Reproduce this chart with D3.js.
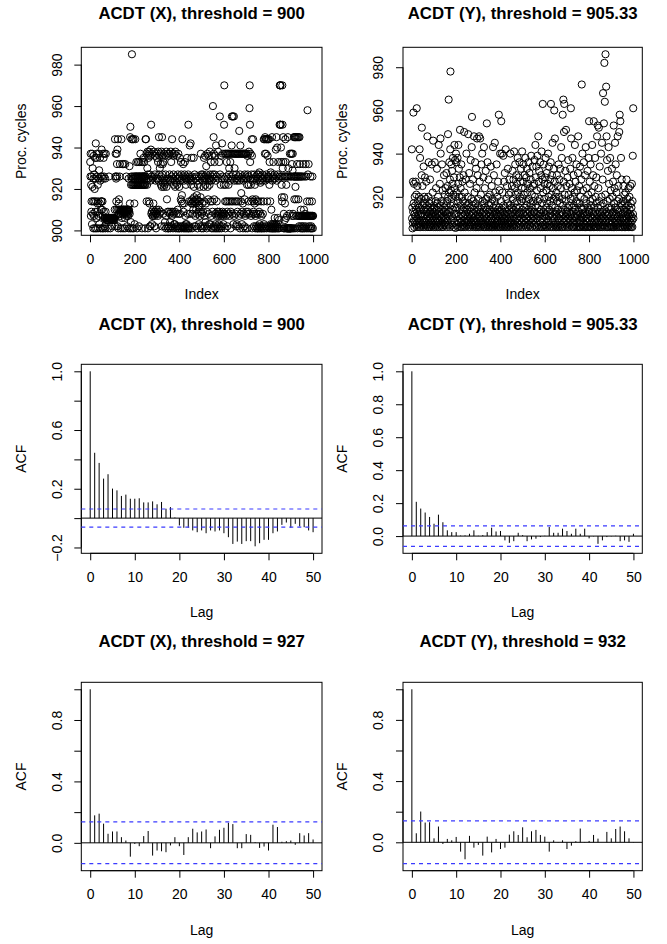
<!DOCTYPE html>
<html><head><meta charset="utf-8">
<script src="https://cdn.jsdelivr.net/npm/d3@7"></script>
<style>
body{margin:0;background:#fff}
svg{display:block}
text{font-family:"Liberation Sans",Arial,Helvetica,sans-serif;fill:#000}
</style>
</head><body>
<svg id="chart" width="667" height="944"></svg>
<script>
// ---------- DATA ----------
const seriesX = [
933,926,937,907,922,909,914,926,903,937,921,930,908,914,901,925,936,907,927,914,920,901,935,909,925,942,914,901,906,935,937,926,909,913,922,901,914,907,925,937,929,903,908,913,935,924,901,926,910,914,
914,939,926,910,901,914,907,937,925,901,935,909,926,906,937,902,906,925,901,909,937,906,905,906,906,905,906,906,905,901,906,906,905,906,926,906,906,905,906,906,901,906,905,906,906,906,905,906,902,906,
906,906,905,906,906,905,906,906,906,905,910,944,902,926,937,926,925,914,910,937,932,926,939,902,944,910,901,908,913,915,910,908,926,932,909,910,907,901,908,910,944,910,906,909,932,908,910,901,910,909,
932,910,908,909,910,906,901,932,910,908,909,910,926,907,910,902,910,909,908,910,907,910,925,901,910,909,931,908,913,945,950,901,904,922,926,944,925,985,922,901,944,926,922,925,944,901,922,926,913,903,
922,926,944,922,925,926,922,933,926,922,901,926,922,925,933,922,926,922,902,926,933,922,926,925,922,937,926,922,933,926,922,925,901,926,922,933,926,922,926,935,922,926,933,925,922,926,901,922,944,926,
944,925,937,914,924,922,930,938,927,901,936,935,925,914,938,937,913,927,902,902,924,936,939,951,908,926,909,903,937,907,925,907,910,913,908,938,926,909,902,907,927,936,909,924,908,901,925,910,908,935,
937,909,925,907,933,938,924,910,945,927,936,908,930,925,937,909,932,922,926,938,902,921,945,927,936,932,923,908,933,925,921,937,902,924,922,904,936,923,927,901,907,938,921,925,915,902,937,909,924,901,
901,936,925,909,902,937,927,908,904,901,924,938,909,933,926,902,907,944,937,925,909,901,936,927,908,922,903,937,924,903,909,921,938,901,926,923,908,902,936,925,922,901,910,927,902,937,908,901,925,921,
926,901,935,908,924,902,915,933,927,914,901,917,925,944,913,902,926,932,909,901,924,913,902,927,933,901,907,925,903,922,926,901,903,925,935,902,924,908,901,927,951,901,925,914,902,926,941,908,901,924,
942,925,914,922,935,913,926,901,915,908,913,924,910,914,935,921,916,902,927,913,914,907,925,915,902,910,913,926,917,908,915,901,922,914,924,909,912,903,926,911,914,921,907,925,902,916,937,909,927,901,
926,908,913,902,924,927,909,901,921,925,935,914,907,926,902,936,922,904,925,913,931,927,901,909,924,937,921,902,926,915,936,925,908,903,924,922,938,927,903,914,925,933,907,924,901,926,936,914,909,927,
960,901,925,945,937,902,915,933,927,901,908,936,903,924,941,901,907,914,926,902,909,909,901,938,908,925,903,907,933,901,909,955,927,902,908,922,936,907,901,925,908,942,902,909,926,937,907,903,908,922,
951,970,925,908,937,914,901,922,937,907,926,914,933,937,909,902,925,937,914,908,922,937,927,930,907,914,937,924,933,901,909,937,926,914,941,955,925,908,937,955,914,927,903,937,955,907,924,930,937,914,
925,937,908,902,927,937,914,903,924,937,909,925,937,902,914,926,937,907,948,924,937,901,927,941,908,937,914,918,925,937,903,909,926,937,913,901,924,937,908,925,937,902,915,927,937,907,901,926,937,909,
937,925,908,922,936,901,927,909,937,914,922,926,938,908,959,970,951,933,925,937,922,907,914,927,944,936,901,924,915,908,944,925,909,914,902,927,908,913,922,925,901,907,915,926,902,908,924,914,901,927,
901,925,908,902,914,927,901,909,928,903,924,901,908,923,902,926,914,901,907,925,901,924,927,902,908,925,901,914,944,903,926,944,901,937,945,924,902,944,937,927,944,901,925,914,944,936,926,902,944,925,
926,944,901,922,933,925,902,914,901,928,903,927,910,901,902,945,924,901,903,926,901,933,902,925,901,903,927,906,901,925,902,901,939,926,903,945,924,901,940,902,906,927,901,933,903,925,905,901,926,951,
970,970,951,970,951,940,933,926,922,916,914,970,951,930,926,945,933,901,908,916,926,901,905,913,926,944,933,901,906,922,926,901,907,901,926,901,945,901,930,901,926,901,901,908,901,937,901,901,926,901,
937,901,926,937,932,907,901,929,937,908,926,901,907,945,926,915,945,926,901,945,921,926,945,915,926,907,945,932,926,901,945,926,907,915,945,926,902,907,945,926,932,907,901,926,910,907,902,926,907,901,
907,901,926,907,902,932,907,901,910,907,926,907,901,908,907,902,932,907,926,907,901,907,914,907,958,907,927,901,907,932,907,902,907,914,907,901,907,926,907,901,907,902,907,901,914,907,926,907,901,907
];
const seriesY = [
942,910,915,905.4,908,927,913,959,917,909,926,906,912,920,908,916,911,927,907,914,921,909,961,906,913,925,910,918,907,916,912,908,920,906,915,942,909,938,911,906,914,919,907,912,930,952,909,916,925,908,
911,906,917,934,909,914,920,907,912,929,908,915,906,919,910,927,913,907,916,909,948,911,906,914,920,908,936,912,906,917,909,913,928,907,915,910,906,918,912,908,935,914,907,911,922,909,946,913,906,916,
910,907,915,936,909,912,906,918,911,924,908,914,907,933,910,917,906,912,920,909,915,944,908,913,906,911,926,909,916,947,940,907,912,918,910,906,935,914,908,923,911,906,917,909,913,930,907,915,910,921,
908,913,924,907,916,910,931,906,912,918,909,925,914,949,920,907,965,911,922,936,913,906,928,942,978,916,923,909,935,919,911,932,907,926,914,938,910,921,906,917,929,912,944,908,924,937,915,905.6,920,940,
912,936,907,922,915,909,938,918,906,926,944,911,933,908,920,914,929,951,910,906,924,916,908,935,912,906,920,909,927,914,907,918,911,930,906,915,950,909,922,912,908,917,906,928,913,910,940,907,916,909,
914,908,920,911,949,906,917,909,931,912,907,915,926,910,906,937,913,908,919,911,943,957,907,916,909,928,912,906,918,910,948,914,907,922,909,936,911,906,917,933,908,913,924,906,947,910,915,930,907,912,
919,906,911,948,914,908,927,910,947,906,913,921,909,916,935,907,912,940,908,918,910,906,929,913,907,943,911,917,906,924,909,915,908,932,912,906,919,910,954,914,907,936,909,920,906,913,928,908,916,911,
906,914,921,909,912,907,934,917,910,906,925,913,908,919,906,911,943,909,915,907,930,912,906,918,945,909,922,913,907,916,910,906,935,912,908,920,909,914,906,927,911,907,958,915,909,923,906,913,940,908,
912,906,918,955,909,914,940,907,911,922,906,913,939,908,916,910,927,906,912,931,909,915,907,942,911,906,919,913,908,925,910,906,917,933,909,912,907,921,914,906,928,910,908,916,940,912,906,922,909,915,
908,925,913,906,932,911,919,907,928,914,910,941,906,917,924,909,935,912,921,907,915,930,910,906,926,918,913,938,908,922,911,906,929,915,909,936,912,920,907,927,913,906,933,910,918,924,908,941,914,919,
906,927,912,935,909,921,915,907,930,911,924,908,938,913,906,918,929,910,916,933,907,922,912,906,926,914,936,909,919,911,931,907,924,913,906,917,928,910,939,912,908,921,915,906,934,911,925,909,918,913,
910,926,907,937,913,920,906,944,916,929,908,934,912,906,923,910,939,915,918,907,948,911,927,906,932,913,919,909,936,912,906,924,914,930,908,941,911,917,906,928,963,910,922,907,935,913,906,919,926,911,
907,929,912,938,906,915,923,910,931,908,917,906,926,913,940,909,920,911,934,907,914,925,906,918,928,912,936,963,909,921,906,916,930,911,945,908,924,913,906,919,933,910,960,907,927,947,915,906,920,912,
908,922,913,906,930,911,918,907,925,914,906,935,910,920,909,928,912,906,917,933,911,907,924,943,913,906,938,909,919,912,958,906,916,965,910,927,950,963,908,921,914,906,932,911,918,951,907,925,913,909,
912,906,929,915,908,937,910,921,906,916,913,926,909,907,933,911,919,961,947,912,906,924,910,915,938,908,920,906,913,930,909,916,906,922,911,944,907,914,927,910,906,918,935,912,908,923,906,917,911,931,
948,908,913,906,925,910,917,906,934,912,909,920,906,915,928,911,972,907,914,940,910,906,923,912,908,936,915,906,919,911,907,930,913,906,943,909,917,910,924,906,912,908,932,915,906,921,910,938,913,955,
906,914,927,909,918,906,935,911,916,908,922,906,913,944,910,919,907,930,912,906,955,915,908,925,911,906,938,913,909,920,906,917,929,910,908,948,912,906,953,915,909,924,907,952,911,918,906,934,913,910,
908,916,906,940,912,920,909,945,913,906,928,911,968,907,917,910,954,914,982,906,964,912,921,986,909,908,971,913,948,906,937,911,918,906,932,910,915,943,908,926,912,906,919,909,938,914,907,923,911,906,
915,909,933,906,912,920,908,927,913,906,953,910,917,906,924,911,945,908,915,935,907,912,922,906,930,914,909,918,948,911,906,925,913,908,919,950,910,958,906,914,955,909,917,938,912,906,928,910,916,908,
912,906,918,910,925,907,914,909,921,906,913,917,908,906,922,911,915,907,928,910,906,913,919,908,912,916,906,924,909,911,907,920,914,906,912,925,908,917,910,906,915,911,926,909,906,918,939,912,961,910
];
const lags = [0,1,2,3,4,5,6,7,8,9,10,11,12,13,14,15,16,17,18,19,20,21,22,23,24,25,26,27,28,29,30,31,32,33,34,35,36,37,38,39,40,41,42,43,44,45,46,47,48,49,50];
const acfX900 = [1,0.445,0.376,0.269,0.299,0.201,0.189,0.151,0.160,0.132,0.132,0.135,0.107,0.107,0.114,0.094,0.110,0.064,0.075,0.004,
-0.050,-0.066,-0.066,-0.084,-0.096,-0.084,-0.103,-0.084,-0.091,-0.084,-0.103,-0.130,-0.176,-0.160,-0.176,-0.157,-0.157,-0.192,-0.171,-0.148,-0.148,-0.103,-0.091,-0.046,-0.030,-0.066,-0.039,-0.057,-0.062,-0.084,-0.096];
const acfY905 = [1,0.208,0.167,0.143,0.116,0.075,0.130,0.084,0.035,0.024,0.024,0.003,0.004,0.014,0.035,0.002,0.006,0.024,0.051,0.028,0.031,
-0.026,-0.041,-0.031,0.020,0.006,-0.031,-0.020,-0.016,-0.006,0.002,0.055,0.020,0.020,0.045,0.031,0.014,0.045,0.014,0.045,-0.014,-0.002,-0.047,-0.026,-0.006,-0.002,0.002,-0.031,-0.026,-0.035,0.014];
const acfX927 = [1,0.179,0.190,0.125,0.059,0.074,0.074,0.037,0.015,-0.090,-0.007,-0.022,0.044,0.077,-0.083,-0.050,-0.055,-0.061,-0.017,0.037,-0.022,
-0.079,0.037,0.092,0.068,0.074,0.087,-0.035,0.042,0.085,0.098,0.131,0.122,-0.035,-0.035,0.057,0.052,0.004,-0.033,-0.024,-0.050,0.118,0.103,0.007,0.011,0.015,-0.013,0.063,0.048,0.063,0.022];
const acfY932 = [1,0.059,0.201,0.129,0.131,0.026,0.103,-0.011,0.022,0.013,0.035,-0.061,-0.111,0.042,-0.035,-0.017,-0.087,0.037,-0.066,0.022,-0.044,
-0.035,0.050,0.072,0.048,0.098,0.033,0.072,0.081,0.048,0.037,-0.061,0.013,-0.002,0.013,-0.044,-0.022,0.007,0.090,0.002,0.009,0.048,0.024,0.000,0.068,0.026,0.087,0.103,0.072,0.026,-0.002];
const ciBounds = [0.062, 0.062, 0.136, 0.140];
const titles = ["ACDT (X), threshold = 900","ACDT (Y), threshold = 905.33","ACDT (X), threshold = 900","ACDT (Y), threshold = 905.33","ACDT (X), threshold = 927","ACDT (Y), threshold = 932"];
const indexTicks = [0,200,400,600,800,1000];
const procTicksX = [900,920,940,960,980];
const procTicksY = [920,940,960,980];
const lagTicks = [0,10,20,30,40,50];
const acfTicksA = [-0.2,0,0.2,0.4,0.6,0.8,1.0];
const acfLabelsA = ["\u22120.2","","0.2","","0.6","","1.0"];
const acfTicksB = [0,0.2,0.4,0.6,0.8,1.0];
const acfLabelsB = ["0.0","0.2","0.4","0.6","0.8","1.0"];
const acfLabelsC = ["0.0","","0.4","","0.8",""];

// ---------- LAYOUT ----------
const colL = [81.3, 403], colR = [322, 642.3];
const rowT = [47.3, 364.3, 682.3], rowB = [235.3, 553.3, 870.7];
const titleY = [13.7, 324.5, 641.7];
const svg = d3.select("#chart");
const AX_FS = 14, TITLE_FS = 16.8;

function extend(ext){ const d=(ext[1]-ext[0])*0.04; return [ext[0]-d, ext[1]+d]; }

function frame(r, c, xdom, ydom, xt, yt, ylabels, xlab, ylab, title){
  const L=colL[c], R=colR[c], T=rowT[r], B=rowB[r];
  const x=d3.scaleLinear().domain(xdom).range([L,R]);
  const y=d3.scaleLinear().domain(ydom).range([B,T]);
  const g=svg.append("g");
  const gx=g.append("g").attr("transform",`translate(0,${B})`)
    .call(d3.axisBottom(x).tickValues(xt).tickSize(7).tickFormat(d3.format("d")));
  gx.select(".domain").attr("d",`M${x(xt[0])},0H${x(xt[xt.length-1])}`).attr("stroke","#000");
  gx.selectAll(".tick line").attr("stroke","#000");
  gx.selectAll("text").attr("y",23.7).attr("dy","0.36em").style("font-size",AX_FS+"px")
    .style("font-family",'"Liberation Sans",Arial,sans-serif').attr("fill","#000");
  const gy=g.append("g").attr("transform",`translate(${L},0)`)
    .call(d3.axisLeft(y).tickValues(yt).tickSize(7).tickFormat((d,i)=>ylabels[i]));
  gy.select(".domain").attr("d",`M0,${y(yt[0])}V${y(yt[yt.length-1])}`).attr("stroke","#000");
  gy.selectAll(".tick line").attr("stroke","#000");
  gy.selectAll("text").attr("x",null).attr("dy",null)
    .attr("transform","translate(-24.6,0) rotate(-90)")
    .attr("text-anchor","middle").attr("dominant-baseline","central")
    .style("font-size",AX_FS+"px").style("font-family",'"Liberation Sans",Arial,sans-serif').attr("fill","#000");
  g.append("rect").attr("x",L).attr("y",T).attr("width",R-L).attr("height",B-T)
    .attr("fill","none").attr("stroke","#000").attr("stroke-width",1);
  g.append("text").attr("x",(L+R)/2).attr("y",B+59).attr("text-anchor","middle")
    .attr("dominant-baseline","central").style("font-size",AX_FS+"px").text(xlab);
  g.append("text").attr("transform",`translate(${L-60.6},${(T+B)/2}) rotate(-90)`)
    .attr("text-anchor","middle").attr("dominant-baseline","central").style("font-size",AX_FS+"px").text(ylab);
  g.append("text").attr("x",(L+R)/2).attr("y",titleY[r]).attr("text-anchor","middle")
    .attr("dominant-baseline","central").style("font-size",TITLE_FS+"px").style("font-weight","bold").text(title);
  return {g,x,y,L,R};
}

function scatter(c, data, yt, title){
  const xdom = extend([1, data.length]);
  const ydom = extend(d3.extent(data));
  const f = frame(0, c, xdom, ydom, indexTicks, yt, yt.map(String), "Index", "Proc. cycles", title);
  f.g.append("g").selectAll("circle").data(data).join("circle")
    .attr("cx",(d,i)=>f.x(i+1)).attr("cy",d=>f.y(d)).attr("r",3.6)
    .attr("fill","none").attr("stroke","#000").attr("stroke-width",1);
}

function acfPlot(r, c, vals, ci, yt, ylabels, title){
  const ydom = extend(d3.extent(vals.concat([ci, -ci])));
  const xdom = extend([0, 50]);
  const f = frame(r, c, xdom, ydom, lagTicks, yt, ylabels, "Lag", "ACF", title);
  f.g.append("line").attr("x1",f.L).attr("x2",f.R).attr("y1",f.y(0)).attr("y2",f.y(0)).attr("stroke","#000");
  f.g.append("g").selectAll("line").data(vals).join("line")
    .attr("x1",(d,i)=>f.x(lags[i])).attr("x2",(d,i)=>f.x(lags[i]))
    .attr("y1",f.y(0)).attr("y2",d=>f.y(d)).attr("stroke","#000").attr("stroke-width",1);
  [ci,-ci].forEach(v=>{
    f.g.append("line").attr("x1",f.L).attr("x2",f.R).attr("y1",f.y(v)).attr("y2",f.y(v))
      .attr("stroke","#3b3bff").attr("stroke-width",1.2).attr("stroke-dasharray","4,4");
  });
}

scatter(0, seriesX, procTicksX, titles[0]);
scatter(1, seriesY, procTicksY, titles[1]);
acfPlot(1, 0, acfX900, ciBounds[0], acfTicksA, acfLabelsA, titles[2]);
acfPlot(1, 1, acfY905, ciBounds[1], acfTicksB, acfLabelsB, titles[3]);
acfPlot(2, 0, acfX927, ciBounds[2], acfTicksB, acfLabelsC, titles[4]);
acfPlot(2, 1, acfY932, ciBounds[3], acfTicksB, acfLabelsC, titles[5]);
</script>
</body></html>
